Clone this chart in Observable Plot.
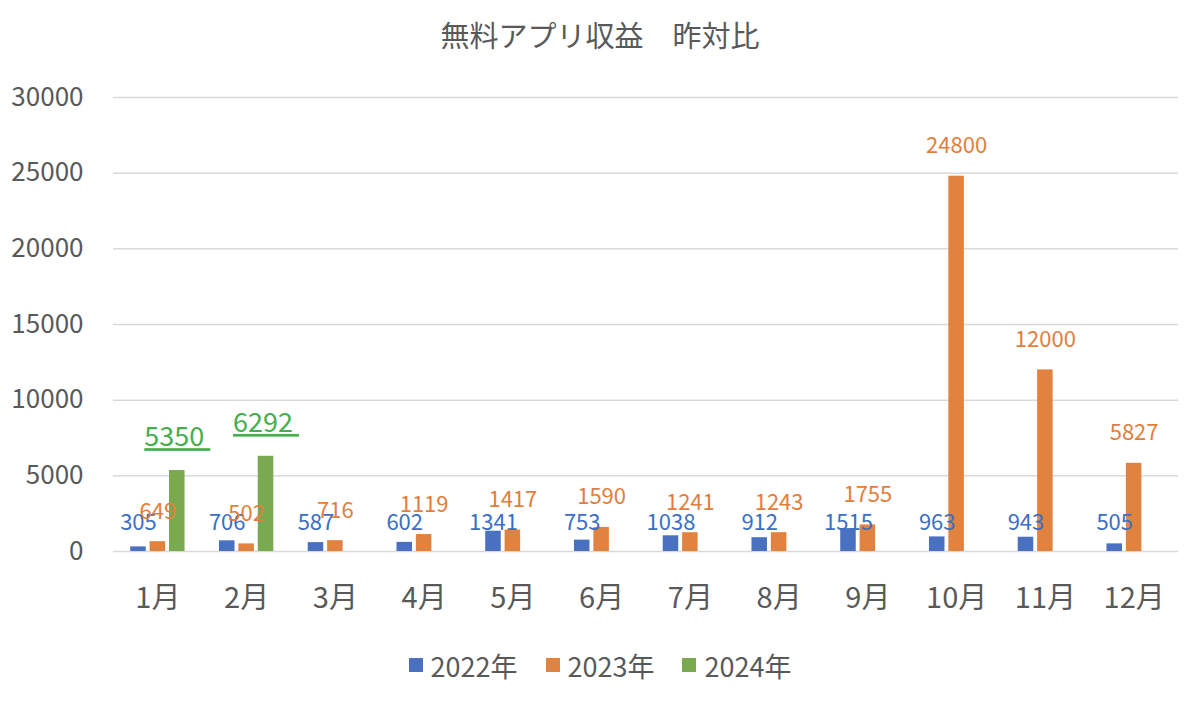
<!DOCTYPE html>
<html>
<head>
<meta charset="utf-8">
<script src="https://cdn.jsdelivr.net/npm/d3@7"></script>
<script src="https://cdn.jsdelivr.net/npm/@observablehq/plot@0.6"></script>
<style>
  body { margin: 0; background: #fff; font-family: "Noto Sans CJK JP", "Noto Sans", sans-serif; }
  #wrap { width: 1200px; height: 703px; overflow: hidden; }
  #title { height: 68px; display: flex; align-items: center; justify-content: center; font-size: 29px; color: #595959; }
  #chart { height: 562px; }
  #legend { height: 70px; display: flex; align-items: center; justify-content: center; gap: 28px; font-size: 27px; color: #595959; }
  .item { display: flex; align-items: center; gap: 8px; }
  .sw { width: 14px; height: 14px; display: inline-block; }
</style>
</head>
<body>
<div id="wrap">
  <div id="title">無料アプリ収益　昨対比</div>
  <div id="chart"></div>
  <div id="legend"></div>
</div>
<script>
const months = ["1月","2月","3月","4月","5月","6月","7月","8月","9月","10月","11月","12月"];
const years = ["2022年","2023年","2024年"];
const values2022 = [305,706,587,602,1341,753,1038,912,1515,963,943,505];
const values2023 = [649,502,716,1119,1417,1590,1241,1243,1755,24800,12000,5827];
const values2024 = [5350,6292];
const yTicks = [0,5000,10000,15000,20000,25000,30000];
const barColors = ["#4A71C0","#E2823F","#79AA4F"];
const labelColors = ["#3A6FC4","#E27E3C","#45AE4D"];

const toRows = vals => vals.map((v, i) => ({month: months[i], value: v}));
const d2022 = toRows(values2022);
const d2023 = toRows(values2023);
const d2024 = toRows(values2024);

const step = 19.4;
const inset = 23.3;
const labelFont = 22;

const plot = Plot.plot({
  width: 1200,
  height: 562,
  marginTop: 29,
  marginBottom: 79,
  marginLeft: 113,
  marginRight: 22,
  style: {fontFamily: '"Noto Sans CJK JP", "Noto Sans", sans-serif', background: "#fff"},
  x: {domain: months, paddingInner: 0.3, paddingOuter: 0.15, round: false, label: null},
  y: {domain: [0, 30000], label: null},
  marks: [
    Plot.ruleY(yTicks, {stroke: "#d9d9d9", strokeWidth: 1.5}),
    Plot.axisY({ticks: yTicks, tickSize: 0, tickPadding: 30, fontSize: 26, color: "#595959", tickFormat: d => String(d), label: null}),
    Plot.axisX({tickSize: 0, tickPadding: 36, fontSize: 29, color: "#595959", label: null}),
    Plot.barY(d2022, {x: "month", y: "value", fill: barColors[0], dx: -step, insetLeft: inset, insetRight: inset}),
    Plot.barY(d2023, {x: "month", y: "value", fill: barColors[1], insetLeft: inset, insetRight: inset}),
    Plot.barY(d2024, {x: "month", y: "value", fill: barColors[2], dx: step, insetLeft: inset, insetRight: inset}),
    Plot.text(d2022, {x: "month", text: d => String(d.value), frameAnchor: "bottom", dx: -step, dy: -29, lineAnchor: "middle", fill: labelColors[0], fontSize: labelFont}),
    Plot.text(d2023, {x: "month", y: "value", text: d => String(d.value), dy: -30, lineAnchor: "middle", fill: labelColors[1], fontSize: labelFont}),
    Plot.text(d2024, {x: "month", y: "value", text: d => String(d.value) + " ", dx: step, dy: -33, lineAnchor: "middle", fill: labelColors[2], fontSize: 27})
  ]
});
document.getElementById("chart").appendChild(plot);
const textGroups = plot.querySelectorAll('g[aria-label="text"]');
if (textGroups.length) {
  const g = textGroups[textGroups.length - 1];
  g.setAttribute("text-decoration", "underline");
  g.style.textDecoration = "underline";
}

const legend = document.getElementById("legend");
years.forEach((y, i) => {
  const it = document.createElement("div");
  it.className = "item";
  const sw = document.createElement("span");
  sw.className = "sw";
  sw.style.background = barColors[i];
  const t = document.createElement("span");
  t.textContent = y;
  it.appendChild(sw);
  it.appendChild(t);
  legend.appendChild(it);
});
</script>
</body>
</html>
